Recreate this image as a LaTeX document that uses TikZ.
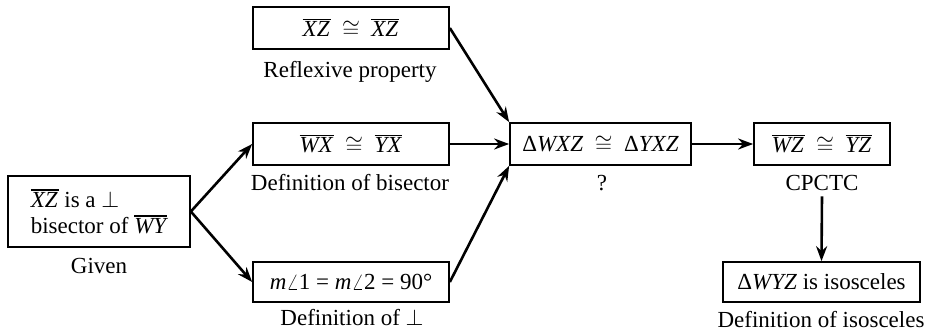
\RequirePackage{fix-cm}
\documentclass[tikz,border=0pt]{standalone}
\usepackage{fontspec}
\setmainfont{Liberation Serif}
\usetikzlibrary{arrows.meta}
\newcommand{\seg}[1]{\vbox{\hrule height 1.5pt\kern 1.8pt\hbox{\itshape #1\kern1pt}}}
\begin{document}
\begin{tikzpicture}[x=1pt,y=-1pt,
  font=\fontsize{23}{26}\selectfont,
  box/.style={draw, line width=1.7pt, inner sep=0pt, minimum height=42pt},
  lab/.style={anchor=base, inner sep=0pt},
  arr/.style={line width=2.6pt, -{Stealth[length=15pt,width=11pt]}}]
\useasboundingbox (0,0) rectangle (930,332);
\node[box, minimum width=182pt, minimum height=71pt, align=left] (given) at (99,211.5) {\seg{XZ} is a $\perp$\\ bisector of \seg{WY}};
\node[box, minimum width=196pt] (refl) at (351,28) {\seg{XZ}\hspace{0.5em}$\cong$\hspace{0.5em}\seg{XZ}};
\node[box, minimum width=196pt] (wx) at (351,144) {\seg{WX}\hspace{0.5em}$\cong$\hspace{0.5em}\seg{YX}};
\node[box, minimum width=196pt, minimum height=40pt] (m) at (351,282) {\textit{m}$\angle$1 = \textit{m}$\angle$2 = 90°};
\node[box, minimum width=181pt] (T) at (600.5,144) {Δ\textit{WXZ}\hspace{0.5em}$\cong$\hspace{0.5em}Δ\textit{YXZ}};
\node[box, minimum width=136pt] (wz) at (822,144) {\seg{WZ}\hspace{0.5em}$\cong$\hspace{0.5em}\seg{YZ}};
\node[box, minimum width=197pt, minimum height=40pt] (iso) at (821.5,282) {Δ\textit{WYZ} is isosceles};
\node[lab] (lgiven) at (99,273) {Given};
\node[lab] (lrefl) at (350,77) {Reflexive property};
\node[lab] (lwx) at (350,190) {Definition of bisector};
\node[lab] (lm) at (352,325) {Definition of $\perp$};
\node[lab] (lT) at (602,190) {?};
\node[lab] (lwz) at (822,190) {CPCTC};
\node[lab] (liso) at (821,327) {Definition of isosceles};
\draw[arr] (given.east) -- (wx.west);
\draw[arr] (given.east) -- (m.west);
\draw[arr] (refl.east) -- (T.north west);
\draw[arr] (wx.east) -- (T.west);
\draw[arr] (m.east) -- (T.south west);
\draw[arr] (T.east) -- (wz.west);
\draw[arr] ([yshift=-6pt]lwz.south) -- (iso.north);
\end{tikzpicture}
\end{document}
